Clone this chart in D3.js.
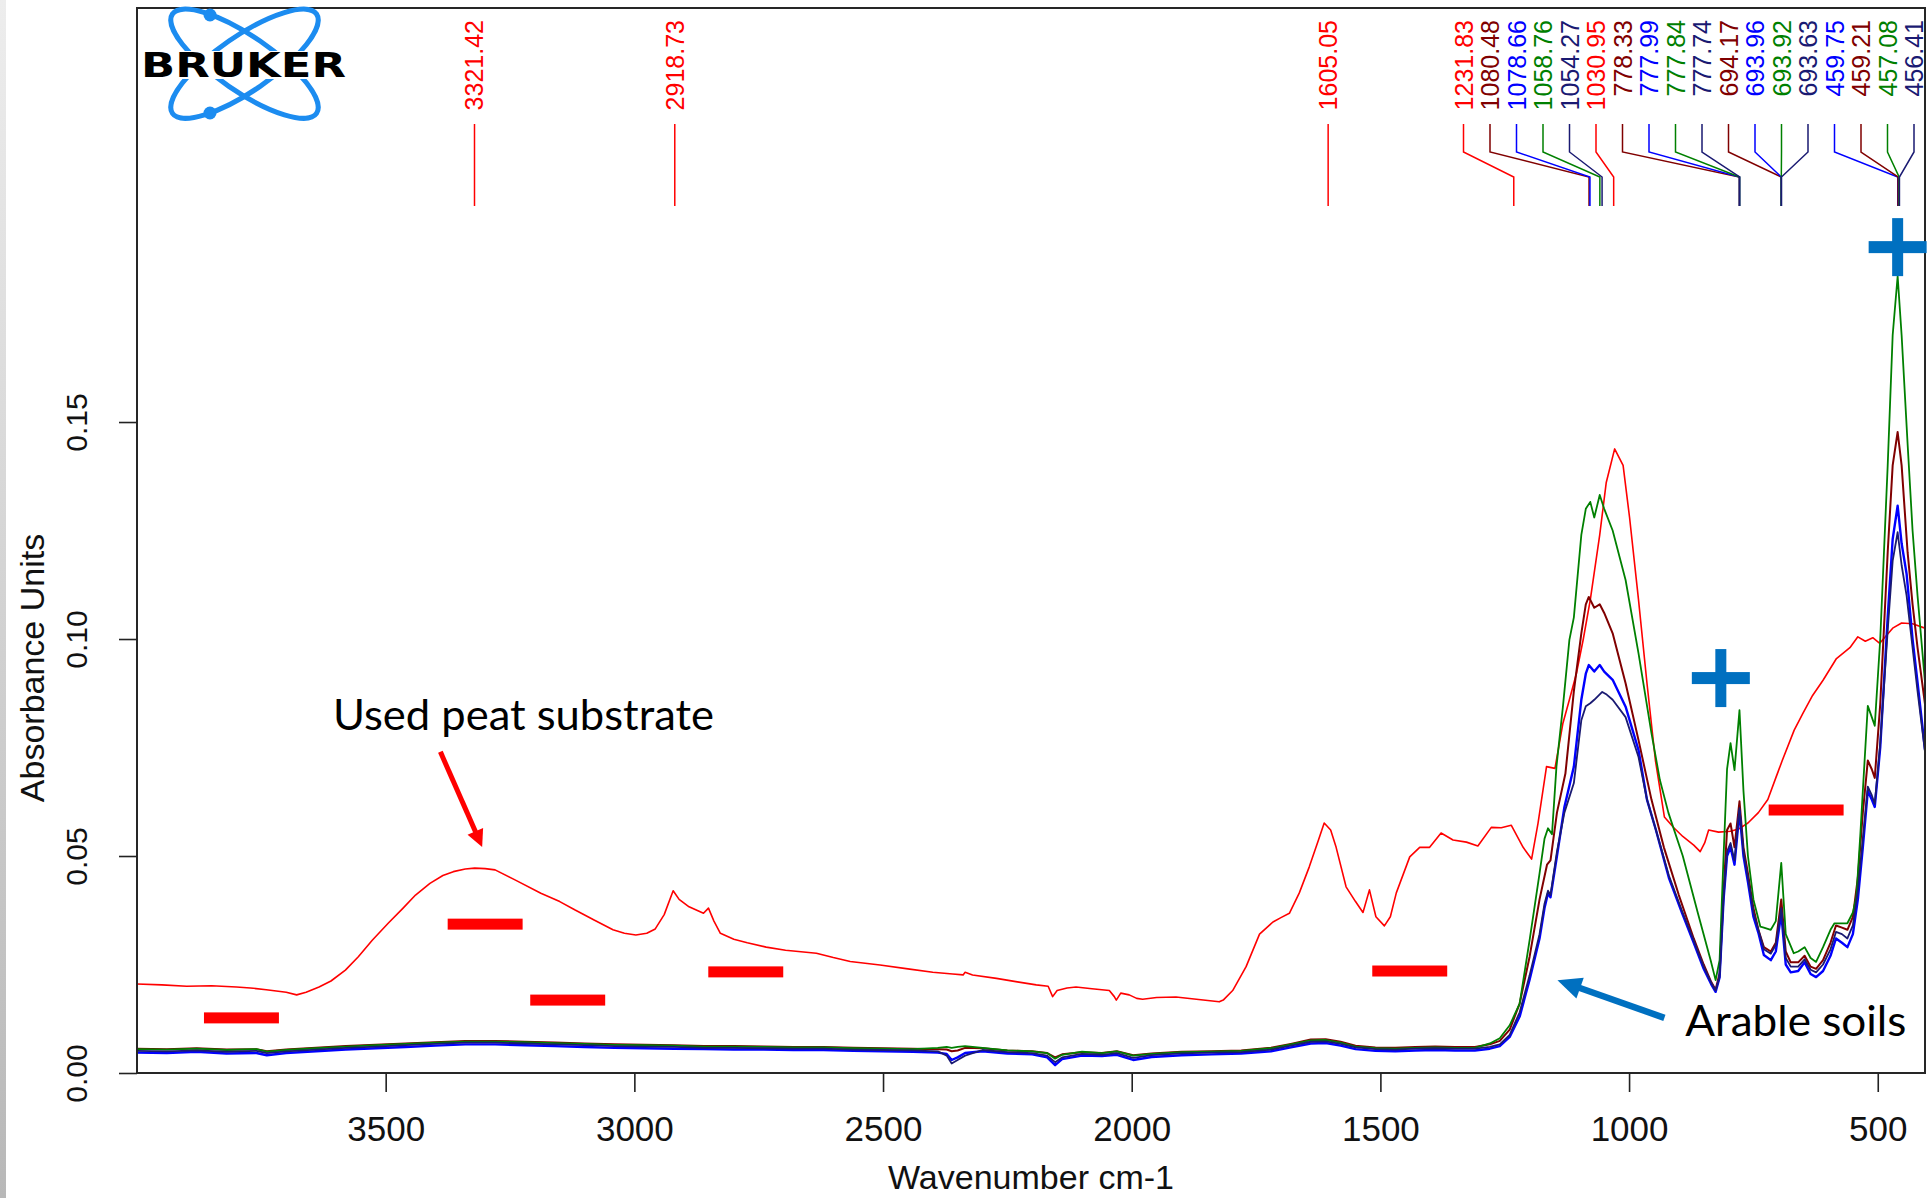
<!DOCTYPE html>
<html>
<head>
<meta charset="utf-8">
<script src="https://cdn.jsdelivr.net/npm/d3@7"></script>
<style>
  body { margin: 0; background: #fff; }
  svg { display: block; }
</style>
</head>
<body>
<svg id="chart"></svg>
<script>
// ---- spectra, [wavenumber cm-1, absorbance] ----
var usedPeat = [
  [4000,0.0205],[3950,0.0203],[3900,0.0200],[3850,0.0201],[3800,0.0198],[3772,0.0196],[3740,0.0192],[3700,0.0186],
  [3679,0.0180],[3660,0.0186],[3634,0.0198],[3610,0.0212],[3581,0.0237],[3555,0.0268],[3527,0.0306],[3495,0.0345],
  [3465,0.0380],[3440,0.0410],[3411,0.0437],[3385,0.0455],[3364,0.0464],[3340,0.0470],[3321,0.0472],[3300,0.0471],
  [3280,0.0468],[3240,0.0445],[3188,0.0414],[3150,0.0395],[3120,0.0376],[3080,0.0352],[3043,0.0330],[3020,0.0322],
  [2997,0.0318],[2975,0.0322],[2958,0.0332],[2940,0.0365],[2922,0.0420],[2910,0.0400],[2890,0.0383],[2861,0.0368],
  [2851,0.0380],[2840,0.0350],[2827,0.0322],[2800,0.0308],[2773,0.0300],[2735,0.0290],[2696,0.0283],[2634,0.0276],
  [2600,0.0266],[2566,0.0257],[2506,0.0249],[2450,0.0240],[2400,0.0232],[2360,0.0228],[2339,0.0226],[2335,0.0232],
  [2320,0.0226],[2272,0.0218],[2230,0.0210],[2192,0.0203],[2168,0.0200],[2159,0.0176],[2150,0.0190],[2130,0.0196],
  [2112,0.0198],[2080,0.0194],[2045,0.0190],[2035,0.0176],[2031,0.0168],[2022,0.0184],[2005,0.0180],[1990,0.0172],
  [1978,0.0170],[1950,0.0174],[1911,0.0175],[1870,0.0170],[1824,0.0164],[1816,0.0168],[1797,0.0190],[1770,0.0245],
  [1743,0.0320],[1716,0.0348],[1700,0.0358],[1683,0.0368],[1663,0.0415],[1643,0.0475],[1625,0.0535],[1613,0.0576],
  [1600,0.0560],[1589,0.0520],[1569,0.0429],[1550,0.0395],[1535,0.0370],[1522,0.0422],[1509,0.0360],[1492,0.0339],
  [1480,0.0360],[1468,0.0415],[1441,0.0498],[1421,0.0520],[1401,0.0520],[1378,0.0553],[1354,0.0537],[1327,0.0532],
  [1304,0.0523],[1277,0.0566],[1257,0.0565],[1237,0.0571],[1213,0.0520],[1196,0.0493],[1183,0.0576],[1166,0.0706],
  [1149,0.0702],[1133,0.0806],[1120,0.0860],[1106,0.0920],[1092,0.1000],[1078,0.1090],[1059,0.1240],[1046,0.1360],
  [1029,0.1438],[1012,0.1400],[999,0.1280],[981,0.1090],[964,0.0898],[947,0.0720],[929,0.0590],[910,0.0565],
  [892,0.0545],[870,0.0525],[857,0.0510],[848,0.0530],[840,0.0560],[820,0.0555],[796,0.0557],[780,0.0562],
  [761,0.0576],[740,0.0600],[721,0.0630],[705,0.0680],[692,0.0720],[668,0.0790],[650,0.0830],[631,0.0870],
  [610,0.0905],[583,0.0955],[556,0.0980],[540,0.1005],[525,0.0995],[510,0.1003],[496,0.0990],[470,0.1025],
  [452,0.1037],[430,0.1035],[405,0.1025]
];

var soilMaroon = [
  [4000,0.0056],[3940,0.0055],[3880,0.0057],[3820,0.0054],[3760,0.0055],[3739,0.0050],[3700,0.0054],[3640,0.0058],
  [3580,0.0062],[3520,0.0065],[3460,0.0068],[3400,0.0071],[3340,0.0074],[3280,0.0074],[3220,0.0072],[3160,0.0070],
  [3100,0.0068],[3040,0.0066],[2980,0.0065],[2920,0.0064],[2860,0.0062],[2800,0.0062],[2740,0.0061],[2680,0.0060],
  [2620,0.0060],[2560,0.0058],[2500,0.0057],[2440,0.0056],[2390,0.0055],[2372,0.0054],[2362,0.0050],[2350,0.0052],
  [2335,0.0058],[2300,0.0057],[2250,0.0052],[2200,0.0050],[2170,0.0046],[2154,0.0036],[2140,0.0043],[2100,0.0048],
  [2060,0.0046],[2030,0.0050],[1997,0.0041],[1960,0.0045],[1900,0.0049],[1840,0.0050],[1780,0.0052],[1720,0.0058],
  [1680,0.0067],[1640,0.0077],[1610,0.0078],[1580,0.0072],[1550,0.0063],[1510,0.0059],[1470,0.0058],[1430,0.0060],
  [1390,0.0061],[1350,0.0060],[1310,0.0060],[1280,0.0066],[1260,0.0074],[1240,0.0100],[1220,0.0160],[1200,0.0268],
  [1180,0.0400],[1165,0.0480],[1158,0.0490],[1145,0.0600],[1128,0.0690],[1111,0.0880],[1096,0.1013],[1087,0.1080],
  [1081,0.1097],[1070,0.1072],[1059,0.1080],[1050,0.1060],[1033,0.1013],[1007,0.0898],[981,0.0767],[955,0.0630],
  [930,0.0520],[900,0.0410],[870,0.0310],[850,0.0250],[835,0.0210],[826,0.0192],[818,0.0230],[810,0.0420],
  [803,0.0560],[796,0.0575],[788,0.0520],[778,0.0626],[770,0.0520],[761,0.0460],[750,0.0380],[740,0.0330],
  [729,0.0290],[715,0.0280],[705,0.0300],[694,0.0400],[685,0.0280],[675,0.0255],[660,0.0255],[647,0.0270],
  [635,0.0245],[624,0.0240],[610,0.0260],[595,0.0300],[584,0.0340],[572,0.0335],[561,0.0330],[550,0.0360],
  [540,0.0450],[530,0.0600],[520,0.0720],[512,0.0700],[506,0.0680],[495,0.0850],[480,0.1200],[470,0.1400],
  [460,0.1477],[452,0.1400],[440,0.1200],[430,0.1080],[420,0.0980],[405,0.0850]
];

var soilBlue = [
  [4000,0.0047],[3940,0.0046],[3880,0.0049],[3820,0.0045],[3760,0.0046],[3739,0.0041],[3700,0.0046],[3640,0.0050],
  [3580,0.0054],[3520,0.0057],[3460,0.0060],[3400,0.0063],[3340,0.0066],[3280,0.0066],[3220,0.0064],[3160,0.0062],
  [3100,0.0060],[3040,0.0058],[2980,0.0057],[2920,0.0056],[2860,0.0055],[2800,0.0054],[2740,0.0054],[2680,0.0053],
  [2620,0.0053],[2560,0.0051],[2500,0.0050],[2440,0.0049],[2390,0.0047],[2372,0.0044],[2362,0.0030],[2350,0.0036],
  [2335,0.0046],[2300,0.0050],[2250,0.0045],[2200,0.0043],[2170,0.0036],[2154,0.0018],[2140,0.0032],[2100,0.0040],
  [2060,0.0039],[2030,0.0042],[1997,0.0030],[1960,0.0037],[1900,0.0041],[1840,0.0043],[1780,0.0045],[1720,0.0050],
  [1680,0.0059],[1640,0.0068],[1610,0.0069],[1580,0.0063],[1550,0.0055],[1510,0.0051],[1470,0.0050],[1430,0.0052],
  [1390,0.0053],[1350,0.0052],[1310,0.0052],[1280,0.0056],[1260,0.0062],[1240,0.0083],[1220,0.0130],[1200,0.0215],
  [1180,0.0310],[1170,0.0380],[1163,0.0414],[1158,0.0405],[1145,0.0500],[1130,0.0613],[1111,0.0706],[1096,0.0860],
  [1087,0.0920],[1081,0.0940],[1070,0.0925],[1059,0.0940],[1050,0.0925],[1033,0.0906],[1007,0.0844],[981,0.0744],
  [964,0.0630],[946,0.0560],[920,0.0450],[894,0.0370],[870,0.0300],[850,0.0240],[835,0.0205],[826,0.0187],
  [818,0.0220],[810,0.0400],[803,0.0500],[796,0.0520],[788,0.0480],[778,0.0603],[770,0.0500],[761,0.0440],
  [750,0.0360],[740,0.0323],[729,0.0272],[715,0.0260],[705,0.0280],[694,0.0368],[685,0.0250],[675,0.0232],
  [660,0.0235],[647,0.0255],[635,0.0228],[624,0.0221],[610,0.0235],[595,0.0270],[584,0.0310],[572,0.0300],
  [561,0.0290],[550,0.0320],[540,0.0400],[530,0.0520],[520,0.0650],[512,0.0630],[506,0.0613],[495,0.0750],
  [480,0.1050],[470,0.1230],[460,0.1307],[452,0.1220],[442,0.1150],[430,0.1000],[420,0.0900],[405,0.0745]
];

var soilGreen = [
  [4000,0.0055],[3940,0.0054],[3880,0.0056],[3820,0.0053],[3760,0.0055],[3739,0.0049],[3700,0.0053],[3640,0.0057],
  [3580,0.0061],[3520,0.0064],[3460,0.0067],[3400,0.0070],[3340,0.0072],[3280,0.0072],[3220,0.0071],[3160,0.0069],
  [3100,0.0067],[3040,0.0065],[2980,0.0064],[2920,0.0063],[2860,0.0061],[2800,0.0061],[2740,0.0060],[2680,0.0059],
  [2620,0.0059],[2560,0.0057],[2500,0.0056],[2440,0.0055],[2390,0.0058],[2372,0.0060],[2362,0.0058],[2350,0.0060],
  [2335,0.0062],[2300,0.0058],[2250,0.0052],[2200,0.0050],[2170,0.0046],[2154,0.0033],[2140,0.0042],[2100,0.0049],
  [2060,0.0046],[2030,0.0050],[1997,0.0040],[1960,0.0044],[1900,0.0048],[1840,0.0049],[1780,0.0051],[1720,0.0057],
  [1680,0.0066],[1640,0.0075],[1610,0.0076],[1580,0.0070],[1550,0.0061],[1510,0.0057],[1470,0.0056],[1430,0.0058],
  [1390,0.0059],[1350,0.0058],[1310,0.0058],[1280,0.0068],[1260,0.0080],[1240,0.0110],[1220,0.0160],[1200,0.0306],
  [1180,0.0460],[1170,0.0540],[1163,0.0564],[1155,0.0550],[1146,0.0706],[1133,0.0844],[1120,0.0998],[1111,0.1050],
  [1096,0.1240],[1087,0.1300],[1078,0.1316],[1070,0.1280],[1059,0.1332],[1050,0.1300],[1033,0.1250],[1007,0.1136],
  [981,0.0967],[955,0.0783],[938,0.0675],[921,0.0600],[892,0.0500],[862,0.0370],[836,0.0260],[826,0.0214],
  [818,0.0260],[810,0.0500],[803,0.0700],[796,0.0760],[788,0.0698],[778,0.0836],[770,0.0650],[761,0.0500],
  [750,0.0400],[736,0.0337],[729,0.0335],[715,0.0330],[705,0.0350],[694,0.0484],[685,0.0320],[669,0.0276],
  [660,0.0280],[647,0.0290],[635,0.0265],[624,0.0256],[610,0.0290],[595,0.0330],[587,0.0345],[572,0.0345],
  [561,0.0345],[550,0.0370],[543,0.0406],[535,0.0550],[530,0.0650],[520,0.0846],[512,0.0820],[506,0.0800],
  [495,0.1000],[480,0.1400],[470,0.1700],[460,0.1836],[452,0.1700],[440,0.1450],[430,0.1250],[420,0.1100],
  [405,0.0900]
];

var soilNavy = [
  [4000,0.0051],[3940,0.0050],[3880,0.0052],[3820,0.0049],[3760,0.0051],[3739,0.0046],[3700,0.0050],[3640,0.0054],
  [3580,0.0058],[3520,0.0061],[3460,0.0064],[3400,0.0067],[3340,0.0070],[3280,0.0070],[3220,0.0068],[3160,0.0066],
  [3100,0.0064],[3040,0.0062],[2980,0.0061],[2920,0.0060],[2860,0.0058],[2800,0.0058],[2740,0.0057],[2680,0.0056],
  [2620,0.0056],[2560,0.0054],[2500,0.0053],[2440,0.0052],[2390,0.0050],[2372,0.0040],[2362,0.0022],[2350,0.0030],
  [2335,0.0040],[2300,0.0053],[2250,0.0048],[2200,0.0046],[2170,0.0040],[2154,0.0025],[2140,0.0036],[2100,0.0044],
  [2060,0.0042],[2030,0.0046],[1997,0.0035],[1960,0.0041],[1900,0.0045],[1840,0.0047],[1780,0.0048],[1720,0.0054],
  [1680,0.0063],[1640,0.0072],[1610,0.0073],[1580,0.0067],[1550,0.0059],[1510,0.0055],[1470,0.0054],[1430,0.0056],
  [1390,0.0057],[1350,0.0056],[1310,0.0056],[1280,0.0060],[1260,0.0066],[1240,0.0088],[1220,0.0140],[1200,0.0225],
  [1180,0.0320],[1170,0.0390],[1163,0.0420],[1158,0.0410],[1145,0.0510],[1130,0.0600],[1111,0.0668],[1096,0.0813],
  [1087,0.0845],[1078,0.0852],[1070,0.0860],[1054,0.0878],[1045,0.0872],[1033,0.0860],[1007,0.0820],[981,0.0728],
  [964,0.0630],[946,0.0560],[920,0.0455],[894,0.0375],[870,0.0305],[850,0.0245],[835,0.0208],[826,0.0190],
  [818,0.0222],[810,0.0405],[803,0.0510],[796,0.0530],[788,0.0490],[778,0.0610],[770,0.0510],[761,0.0450],
  [750,0.0370],[740,0.0330],[729,0.0285],[715,0.0275],[705,0.0295],[694,0.0380],[685,0.0265],[675,0.0245],
  [660,0.0245],[647,0.0262],[635,0.0238],[624,0.0232],[610,0.0250],[595,0.0285],[584,0.0325],[572,0.0320],
  [561,0.0310],[550,0.0340],[540,0.0420],[530,0.0540],[520,0.0660],[512,0.0640],[506,0.0620],[495,0.0760],
  [480,0.1020],[470,0.1180],[460,0.1246],[452,0.1170],[442,0.1100],[430,0.0980],[420,0.0880],[405,0.0740]
];

// ---- picked peaks ----
var peakLabels = ["3321.42","2918.73","1605.05","1231.83","1080.48","1078.66","1058.76","1054.27","1030.95",
  "778.33","777.99","777.84","777.74","694.17","693.96","693.92","693.63","459.75","459.21","457.08","456.41"];
var peakSeries = ["peat","peat","peat","peat","maroon","blue","green","navy","peat",
  "maroon","blue","green","navy","maroon","blue","green","navy","blue","maroon","green","navy"];

// ---- axes ----
var xTicks = [3500, 3000, 2500, 2000, 1500, 1000, 500];
var yTicks = [0.00, 0.05, 0.10, 0.15];

// ---- slide annotations, anchored in data units ----
var minusMarks = [[3790,0.0127],[3300,0.0343],[3134,0.0168],[2776,0.0233],[1441,0.0235],[644,0.0606]];
var plusMarks = [[815.5,0.0910],[460,0.1903]];
var peatNote = {text: "Used peat substrate", at: [3606, 0.0790], from: [3390, 0.0740], to: [3306, 0.0521]};
var soilNote = {text: "Arable soils", at: [887, 0.0085], from: [929, 0.0127], to: [1144, 0.0214]};

var colors = {peat: "#ff0000", maroon: "#800000", blue: "#0000ff", green: "#008000", navy: "#1a1a72"};
var series = [
  {key: "peat", values: usedPeat, w: 1.6},
  {key: "maroon", values: soilMaroon, w: 2},
  {key: "blue", values: soilBlue, w: 2.4},
  {key: "green", values: soilGreen, w: 1.8},
  {key: "navy", values: soilNavy, w: 1.8}
];

var W = 1927, H = 1198;
var plot = {left: 137, right: 1925, top: 8, bottom: 1073};
var axisFont = "'Liberation Sans', Arial, Helvetica, sans-serif";
var noteFont = "Lato, 'Open Sans', sans-serif";
var officeBlue = "#0070c0";

var svg = d3.select("#chart").attr("width", W).attr("height", H);

var x = d3.scaleLinear().domain([4000, 405]).range([plot.left, plot.right]);
var y = d3.scaleLinear().domain([0, 0.2454]).range([plot.bottom, plot.top]);

// slide edge strip
var grad = svg.append("defs").append("linearGradient")
    .attr("id", "edge").attr("x1", 0).attr("y1", 0).attr("x2", 0).attr("y2", 1);
grad.append("stop").attr("offset", "0%").attr("stop-color", "#ededed");
grad.append("stop").attr("offset", "100%").attr("stop-color", "#b8b8b8");
svg.append("rect").attr("x", 0).attr("y", 0).attr("width", 6).attr("height", H).attr("fill", "url(#edge)");

svg.select("defs").append("clipPath").attr("id", "clip")
  .append("rect")
    .attr("x", plot.left).attr("y", plot.top)
    .attr("width", plot.right - plot.left).attr("height", plot.bottom - plot.top);

// spectra
var line = d3.line()
    .x(function(d) { return x(d[0]); })
    .y(function(d) { return y(d[1]); });

svg.append("g").attr("clip-path", "url(#clip)")
  .selectAll("path")
  .data(series)
  .enter().append("path")
    .attr("d", function(d) { return line(d.values); })
    .attr("fill", "none")
    .attr("stroke", function(d) { return colors[d.key]; })
    .attr("stroke-width", function(d) { return d.w; })
    .attr("stroke-linejoin", "round");

// plot frame
svg.append("rect")
    .attr("x", plot.left).attr("y", plot.top)
    .attr("width", plot.right - plot.left).attr("height", plot.bottom - plot.top)
    .attr("fill", "none").attr("stroke", "#262626").attr("stroke-width", 2);

// x axis
var xAxis = svg.append("g")
    .attr("transform", "translate(0," + plot.bottom + ")")
    .call(d3.axisBottom(x).tickValues(xTicks).tickSize(19).tickPadding(24).tickFormat(d3.format("d")));
xAxis.select(".domain").remove();
xAxis.selectAll("line").attr("stroke", "#222").attr("stroke-width", 1.6);
xAxis.selectAll("text").attr("font-family", axisFont).attr("font-size", 35).attr("fill", "#111");

svg.append("text")
    .attr("x", (plot.left + plot.right) / 2).attr("y", 1189)
    .attr("text-anchor", "middle")
    .attr("font-family", axisFont).attr("font-size", 34).attr("fill", "#111")
    .text("Wavenumber cm-1");

// y axis, labels turned like the OPUS print-out
var yAxis = svg.append("g")
    .attr("transform", "translate(" + plot.left + ",0)")
    .call(d3.axisLeft(y).tickValues(yTicks).tickSize(18).tickFormat(d3.format(".2f")));
yAxis.select(".domain").remove();
yAxis.selectAll("line").attr("stroke", "#222").attr("stroke-width", 1.6);
yAxis.selectAll("text")
    .attr("x", null).attr("dy", null)
    .attr("transform", "translate(" + (76 - plot.left) + ",0) rotate(-90)")
    .attr("dy", "0.35em")
    .attr("text-anchor", "middle")
    .attr("font-family", axisFont).attr("font-size", 30).attr("fill", "#111");

svg.append("text")
    .attr("transform", "translate(32,668) rotate(-90)")
    .attr("dy", "0.35em")
    .attr("text-anchor", "middle")
    .attr("font-family", axisFont).attr("font-size", 34).attr("fill", "#111")
    .text("Absorbance Units");

// peak labels: keep them apart, block-centred and held inside the frame
function dodge(targets, gap, maxX) {
  var blocks = [];
  targets.forEach(function(t, i) {
    var b = {first: i, n: 1, adj: t};
    b.start = Math.min(t, maxX);
    blocks.push(b);
    while (blocks.length > 1) {
      var cur = blocks[blocks.length - 1], prev = blocks[blocks.length - 2];
      if (prev.start + prev.n * gap <= cur.start) break;
      prev.adj = prev.adj + cur.adj - cur.n * prev.n * gap;
      prev.n += cur.n;
      prev.start = Math.min(prev.adj / prev.n, maxX - (prev.n - 1) * gap);
      blocks.pop();
    }
  });
  var pos = [];
  blocks.forEach(function(b) {
    for (var k = 0; k < b.n; k++) pos[b.first + k] = b.start + k * gap;
  });
  return pos;
}

var peakX = peakLabels.map(function(s) { return x(+s); });
var labelX = dodge(peakX, 26.5, plot.right - 11);

var peaks = svg.append("g").selectAll("g")
    .data(peakLabels)
    .enter().append("g");

peaks.append("path")
    .attr("d", function(d, i) {
      return "M" + labelX[i] + ",124 L" + labelX[i] + ",152 L" + peakX[i] + ",177 L" + peakX[i] + ",206";
    })
    .attr("fill", "none")
    .attr("stroke", function(d, i) { return colors[peakSeries[i]]; })
    .attr("stroke-width", 1.5);

peaks.append("text")
    .attr("transform", function(d, i) { return "translate(" + labelX[i] + ",20) rotate(-90)"; })
    .attr("dy", "0.36em")
    .attr("text-anchor", "end")
    .attr("font-family", axisFont).attr("font-size", 25)
    .attr("fill", function(d, i) { return colors[peakSeries[i]]; })
    .text(function(d) { return d; });

// Bruker logo
var logo = svg.append("g").attr("transform", "translate(244.5,63.7)");
[34.6, -34.6].forEach(function(a) {
  logo.append("ellipse")
      .attr("rx", 87.5).attr("ry", 27.5)
      .attr("transform", "rotate(" + a + ")")
      .attr("fill", "none").attr("stroke", "#1c8cf0").attr("stroke-width", 5);
});
logo.append("circle").attr("cx", -34.5).attr("cy", -48.7).attr("r", 6.5).attr("fill", "#1c8cf0");
logo.append("circle").attr("cx", -34.5).attr("cy", 49.3).attr("r", 6.5).attr("fill", "#1c8cf0");
svg.append("rect").attr("x", 139).attr("y", 51).attr("width", 212).attr("height", 28).attr("fill", "#fff");
svg.append("text")
    .attr("x", 141).attr("y", 77)
    .attr("font-family", "'DejaVu Sans', sans-serif").attr("font-weight", "bold").attr("font-size", 33)
    .attr("textLength", 205).attr("lengthAdjust", "spacingAndGlyphs")
    .attr("fill", "#000")
    .text("BRUKER");

// red minus bars and blue plus marks
var bandW = x(0) - x(150.7);
svg.append("g").selectAll("rect")
    .data(minusMarks)
    .enter().append("rect")
    .attr("x", function(d) { return x(d[0]) - bandW / 2; })
    .attr("y", function(d) { return y(d[1]) - 5.5; })
    .attr("width", bandW).attr("height", 11)
    .attr("fill", "#ff0000");

var plus = svg.append("g").selectAll("g")
    .data(plusMarks)
    .enter().append("g")
    .attr("transform", function(d) { return "translate(" + x(d[0]) + "," + y(d[1]) + ")"; });
plus.append("rect").attr("x", -29).attr("y", -6).attr("width", 58).attr("height", 12).attr("fill", officeBlue);
plus.append("rect").attr("x", -5.5).attr("y", -29).attr("width", 11).attr("height", 58).attr("fill", officeBlue);

// callouts
function arrow(from, to, color, width, headLen, headW) {
  var x0 = x(from[0]), y0 = y(from[1]), x1 = x(to[0]), y1 = y(to[1]);
  var ang = Math.atan2(y1 - y0, x1 - x0);
  var bx = x1 - headLen * Math.cos(ang), by = y1 - headLen * Math.sin(ang);
  var nx = -Math.sin(ang) * headW / 2, ny = Math.cos(ang) * headW / 2;
  svg.append("line")
      .attr("x1", x0).attr("y1", y0).attr("x2", bx + 1 * Math.cos(ang)).attr("y2", by + 1 * Math.sin(ang))
      .attr("stroke", color).attr("stroke-width", width);
  svg.append("path")
      .attr("d", "M" + x1 + "," + y1 + " L" + (bx + nx) + "," + (by + ny) + " L" + (bx - nx) + "," + (by - ny) + "Z")
      .attr("fill", color);
}
arrow(peatNote.from, peatNote.to, "#ff0000", 5, 17, 17);
arrow(soilNote.from, soilNote.to, officeBlue, 6.5, 24, 22);

[[peatNote, 381], [soilNote, 221]].forEach(function(n) {
  svg.append("text")
      .attr("x", x(n[0].at[0])).attr("y", y(n[0].at[1]))
      .attr("font-family", noteFont).attr("font-size", 42)
      .attr("textLength", n[1]).attr("lengthAdjust", "spacingAndGlyphs")
      .attr("fill", "#000")
      .text(n[0].text);
});
</script>
</body>
</html>
